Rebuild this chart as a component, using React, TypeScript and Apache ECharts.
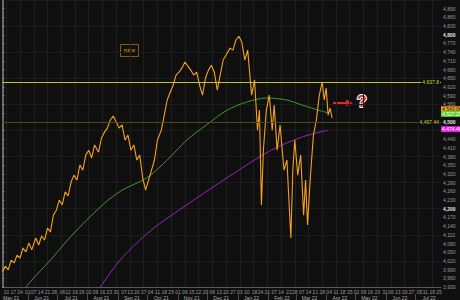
import React, { useEffect, useRef } from "react";
import * as echarts from "echarts";

// ---- axis definition ----
const START_UTC = Date.UTC(2021, 4, 6);
const DAY_COUNT = 448;
const HOLIDAY_MONDAYS = ["2021-05-31", "2021-07-05", "2021-09-06", "2022-01-17", "2022-02-21", "2022-05-30", "2022-07-04"];
const MONTHS = ["Jan", "Feb", "Mar", "Apr", "May", "Jun", "Jul", "Aug", "Sep", "Oct", "Nov", "Dec"];
const Y_MIN = 3930;
const Y_MAX = 4920;
const Y_STEP = 30;
const Y_LABELS_UNDER_FLAGS = [4530, 4470];

// ---- SPX price (day offset from start, value) ----
const priceDays = [0, 3, 6, 9, 12, 15, 18, 21, 24, 27, 30, 34, 37, 40, 43, 46, 49, 52, 55, 58, 61, 64, 67, 70, 73, 76, 79, 82, 85, 88, 91, 94, 98, 101, 104, 107, 110, 113, 116, 119, 122, 125, 128, 131, 134, 137, 140, 143, 146, 149, 152, 155, 158, 162, 165, 168, 171, 174, 177, 180, 183, 186, 189, 192, 195, 198, 201, 204, 207, 210, 213, 216, 219, 222, 225, 228, 232, 235, 238, 241, 244, 247, 250, 254, 257, 260, 262, 264, 266, 269, 272, 275, 277, 280, 283, 287, 290, 292, 294, 296, 298, 301, 304, 307, 309, 311, 314, 317, 320, 323, 326, 328, 330, 332, 334, 336];
const priceValues = [3982, 4002, 3989, 4023, 4013, 4040, 4030, 4064, 4051, 4082, 4058, 4099, 4075, 4106, 4092, 4133, 4120, 4178, 4195, 4230, 4213, 4258, 4244, 4292, 4316, 4299, 4351, 4333, 4385, 4402, 4375, 4420, 4395, 4444, 4464, 4478, 4506, 4520, 4499, 4478, 4489, 4437, 4454, 4402, 4420, 4368, 4385, 4306, 4264, 4299, 4333, 4368, 4437, 4471, 4523, 4575, 4602, 4626, 4661, 4671, 4685, 4706, 4692, 4678, 4661, 4671, 4626, 4592, 4651, 4678, 4695, 4671, 4609, 4661, 4713, 4730, 4754, 4747, 4782, 4795, 4775, 4713, 4747, 4592, 4644, 4471, 4540, 4213, 4402, 4540, 4592, 4471, 4558, 4402, 4489, 4333, 4368, 4230, 4099, 4333, 4437, 4316, 4385, 4178, 4299, 4144, 4316, 4454, 4506, 4592, 4637, 4575, 4616, 4523, 4547, 4513];

// ---- moving averages ----
const ma100Days = [13, 30, 49, 71, 102, 122, 147, 168, 188, 208, 229, 249, 269, 290, 305, 325, 333];
const ma100Values = [3885, 3954, 4023, 4109, 4213, 4264, 4306, 4368, 4437, 4489, 4540, 4568, 4582, 4575, 4558, 4537, 4530];
const ma200Days = [91, 120, 152, 183, 213, 244, 274, 305, 332];
const ma200Values = [3885, 4023, 4127, 4202, 4271, 4340, 4402, 4447, 4471];

// ---- levels / flags ----
const resistanceLevel = 4637.8;
const resistanceText = "4,637.8";
const supportLevel = 4497.44;
const supportText = "4,497.44";
const lastPrice = 4543.06;
const lastPriceText = "4,543.06";
const ma100Last = 4527.29;
const ma100Text = "4,527.29";
const ma200Last = 4474.46;
const ma200Text = "4,474.46";

const BG = "#0f0f0f";
const FONT = "Liberation Sans, Arial, sans-serif";

function buildDays(): string[] {
  const out: string[] = [];
  for (let i = 0; i < DAY_COUNT; i++) {
    out.push(new Date(START_UTC + i * 86400000).toISOString().slice(0, 10));
  }
  return out;
}

function dow(v: string): number {
  return new Date(v + "T00:00:00Z").getUTCDay();
}

function isWeekStart(v: string): boolean {
  const d = dow(v);
  if (d === 1) return HOLIDAY_MONDAYS.indexOf(v) < 0;
  if (d === 2) {
    const prev = new Date(Date.parse(v + "T00:00:00Z") - 86400000).toISOString().slice(0, 10);
    return HOLIDAY_MONDAYS.indexOf(prev) >= 0;
  }
  return false;
}

function zip(a: number[], b: number[]): number[][] {
  return a.map((x, i) => [x, b[i]]);
}

function fmtNum(v: number): string {
  return Math.round(v).toLocaleString("en-US");
}

function flag(value: number, text: string, bg: string, fg: string) {
  return {
    yAxis: value,
    lineStyle: { color: "rgba(0,0,0,0)", width: 1 },
    label: {
      show: true,
      position: "end",
      distance: 0,
      formatter: text,
      backgroundColor: bg,
      color: fg,
      fontSize: 5,
      fontFamily: FONT,
      padding: [1, 1, 0, 1],
    },
  };
}

export default function App() {
  const ref = useRef<HTMLDivElement>(null);

  useEffect(() => {
    if (!ref.current) return;
    const chart = echarts.init(ref.current, null, { renderer: "svg" });
    const days = buildDays();

    const option: any = {
      animation: false,
      backgroundColor: BG,
      textStyle: { fontFamily: FONT },
      grid: { left: 0, right: 19, top: 0, bottom: 13 },
      xAxis: [
        { type: "value", min: 0, max: DAY_COUNT - 1, show: false },
        {
          type: "category",
          data: days,
          boundaryGap: false,
          position: "bottom",
          axisLine: { show: true, lineStyle: { color: "#5a5a5a" } },
          axisTick: { show: false },
          axisLabel: {
            interval: (_i: number, v: string) => isWeekStart(v),
            formatter: (v: string) => v.slice(8, 10),
            fontSize: 5,
            color: "#9a9a9a",
            margin: 2,
            fontFamily: FONT,
          },
          splitLine: {
            show: true,
            interval: (i: number) => i % 14 === 4,
            lineStyle: { color: "#1e1e1e", width: 1 },
          },
        },
        {
          type: "category",
          data: days,
          boundaryGap: false,
          position: "bottom",
          offset: 7,
          axisLine: { show: false },
          axisTick: {
            show: true,
            interval: (_i: number, v: string) => v.slice(8, 10) === "01",
            length: 7,
            lineStyle: { color: "#4a4a4a" },
          },
          axisLabel: {
            interval: (_i: number, v: string) => v.slice(8, 10) === "15",
            formatter: (v: string) => MONTHS[parseInt(v.slice(5, 7), 10) - 1] + " " + v.slice(2, 4),
            fontSize: 5,
            color: "#a8a8a8",
            margin: 1,
            fontFamily: FONT,
          },
          splitLine: { show: false },
        },
      ],
      yAxis: [
        {
          type: "value",
          position: "right",
          min: Y_MIN,
          max: Y_MAX,
          interval: Y_STEP,
          axisLine: { show: true, lineStyle: { color: "#6a6a6a", width: 2 } },
          axisTick: { show: true, length: 2, lineStyle: { color: "#8a8a8a" } },
          splitLine: { show: false },
          axisLabel: {
            margin: 2,
            showMaxLabel: false,
            formatter: (v: number) =>
              Y_LABELS_UNDER_FLAGS.indexOf(v) >= 0 ? "" : v % 300 === 0 ? "{b|" + fmtNum(v) + "}" : fmtNum(v),
            fontSize: 5,
            color: "#9a9a9a",
            fontFamily: FONT,
            rich: { b: { fontSize: 5, color: "#e8e8e8", fontWeight: "bold", fontFamily: FONT } },
          },
        },
        {
          type: "value",
          position: "left",
          min: 0,
          max: 11,
          interval: 1,
          axisLine: { show: false },
          axisTick: { show: false },
          axisLabel: { show: false },
          splitLine: { show: true, lineStyle: { color: "#1c1c1c", width: 1 } },
        },
      ],
      series: [
        {
          name: "MA100",
          type: "line",
          xAxisIndex: 0,
          yAxisIndex: 0,
          data: zip(ma100Days, ma100Values),
          showSymbol: false,
          smooth: 0.3,
          lineStyle: { color: "#3f9a2c", width: 1 },
          z: 3,
        },
        {
          name: "MA200",
          type: "line",
          xAxisIndex: 0,
          yAxisIndex: 0,
          data: zip(ma200Days, ma200Values),
          showSymbol: false,
          smooth: 0.3,
          lineStyle: { color: "#9a28b8", width: 1 },
          z: 3,
        },
        {
          name: "SPX",
          type: "line",
          xAxisIndex: 0,
          yAxisIndex: 0,
          data: zip(priceDays, priceValues),
          showSymbol: false,
          lineStyle: { color: "#f5a020", width: 1.1 },
          z: 4,
          markLine: {
            symbol: "none",
            silent: true,
            data: [
              {
                yAxis: resistanceLevel,
                lineStyle: { color: "#c4c238", width: 1, type: "solid" },
                label: {
                  show: true,
                  position: "insideEnd",
                  formatter: resistanceText,
                  color: "#d6d440",
                  fontSize: 5,
                  fontFamily: FONT,
                  backgroundColor: BG,
                  padding: [0, 1],
                  distance: 1,
                },
              },
              {
                yAxis: supportLevel,
                lineStyle: { color: "#4c4a1a", width: 1, type: "solid" },
                label: {
                  show: true,
                  position: "insideEnd",
                  formatter: supportText,
                  color: "#cfcd3c",
                  fontSize: 5,
                  fontFamily: FONT,
                  backgroundColor: BG,
                  padding: [0, 1],
                  distance: 1,
                },
              },
              flag(lastPrice, lastPriceText, "#f5a020", "#1a1a1a"),
              flag(ma100Last, ma100Text, "#5fd02a", "#ffffff"),
              flag(ma200Last, ma200Text, "#e020e0", "#ffffff"),
            ],
          },
        },
      ],
      graphic: [
        {
          type: "rect",
          shape: { x: 120.5, y: 44.5, width: 18, height: 12 },
          style: { fill: "none", stroke: "#8c5a14", lineWidth: 1 },
        },
        {
          type: "text",
          x: 129.5,
          y: 50.5,
          style: { text: "SPX", fill: "#b47818", font: "bold 6px " + FONT, align: "center", verticalAlign: "middle" },
        },
        {
          type: "line",
          shape: { x1: 333, y1: 103, x2: 348, y2: 103 },
          style: { stroke: "#e8261c", lineWidth: 2 },
        },
        {
          type: "polygon",
          shape: { points: [[346, 99.5], [353, 103], [346, 106.5]] },
          style: { fill: "#e8261c" },
        },
        {
          type: "text",
          x: 362,
          y: 101,
          style: {
            text: "?",
            fill: "#e8261c",
            stroke: "#ffffff",
            lineWidth: 2,
            font: "bold 16px " + FONT,
            align: "center",
            verticalAlign: "middle",
          },
        },
      ],
    };

    chart.setOption(option);
    return () => chart.dispose();
  }, []);

  return (
    <div
      ref={ref}
      style={{ position: "fixed", left: 0, top: 0, width: 460, height: 300, background: BG }}
    />
  );
}
